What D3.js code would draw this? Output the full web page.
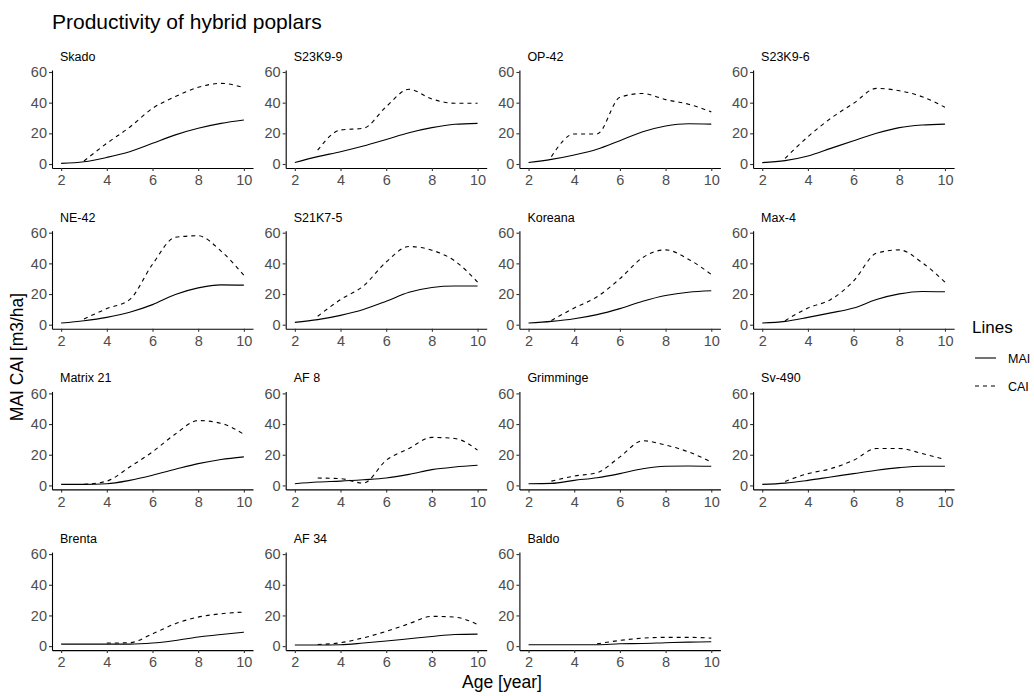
<!DOCTYPE html>
<html>
<head>
<meta charset="utf-8">
<script src="https://cdn.jsdelivr.net/npm/d3@7"></script>
<style>
  body { margin: 0; background: #fff; }
  text { font-family: "Liberation Sans", Arial, sans-serif; }
</style>
</head>
<body>
<div id="chart"></div>
<script>
// data
var ages = [2, 3, 4, 5, 6, 7, 8, 9, 10];
var clones = ["Skado", "S23K9-9", "OP-42", "S23K9-6",
              "NE-42", "S21K7-5", "Koreana", "Max-4",
              "Matrix 21", "AF 8", "Grimminge", "Sv-490",
              "Brenta", "AF 34", "Baldo"];
var maiValues = [
  [0.4, 1.5, 4.3, 8.0, 13.5, 19.0, 23.3, 26.5, 28.7],
  [1.0, 4.8, 8.0, 11.7, 16.0, 20.4, 23.7, 25.9, 26.5],
  [1.0, 3.0, 5.9, 9.6, 15.2, 21.0, 24.8, 26.3, 26.0],
  [0.9, 2.2, 5.2, 10.2, 15.2, 20.0, 23.7, 25.4, 26.0],
  [1.1, 2.6, 4.8, 8.1, 13.1, 19.7, 24.0, 26.0, 25.8],
  [1.5, 3.3, 6.1, 9.9, 15.3, 21.2, 24.3, 25.2, 25.2],
  [1.1, 2.2, 3.9, 6.6, 10.5, 15.3, 19.0, 21.2, 22.1],
  [1.1, 2.2, 4.8, 7.7, 10.9, 16.4, 20.1, 21.7, 21.5],
  [0.7, 0.7, 1.1, 3.3, 6.6, 10.5, 14.2, 16.9, 18.6],
  [1.1, 2.2, 2.8, 3.7, 4.8, 7.2, 10.3, 12.0, 13.1],
  [1.1, 1.3, 3.3, 5.0, 7.7, 10.9, 12.5, 12.7, 12.5],
  [0.7, 1.5, 3.3, 5.5, 7.7, 9.9, 11.6, 12.5, 12.5],
  [1.3, 1.3, 1.3, 1.3, 2.0, 3.7, 5.9, 7.6, 9.1],
  [0.7, 0.7, 0.9, 2.0, 3.3, 4.8, 6.3, 7.6, 7.8],
  [0.9, 0.9, 0.9, 0.9, 1.5, 1.7, 2.2, 2.6, 2.8]
];
var caiValues = [
  [null, 2.0, 13.5, 24.0, 36.3, 44.0, 50.0, 52.6, 49.8],
  [null, 9.0, 22.2, 23.3, 37.4, 48.7, 42.4, 39.6, 39.6],
  [null, 4.8, 19.6, 19.6, 43.5, 46.0, 42.0, 39.0, 34.0],
  [null, 3.7, 17.8, 29.8, 39.6, 49.3, 47.8, 43.9, 37.0],
  [null, 3.7, 10.5, 16.4, 39.4, 57.0, 58.0, 48.0, 32.2],
  [null, 5.5, 16.4, 25.2, 40.9, 51.0, 48.6, 41.6, 27.8],
  [null, 2.8, 10.9, 18.2, 30.0, 43.8, 48.8, 42.7, 32.8],
  [null, 2.6, 10.9, 16.4, 28.5, 46.6, 48.8, 40.5, 27.8],
  [null, 0.7, 2.8, 12.0, 21.9, 33.5, 42.3, 40.5, 33.3],
  [null, 4.8, 4.4, 1.5, 16.4, 24.1, 31.3, 30.6, 23.0],
  [null, 2.8, 6.1, 8.3, 18.6, 29.1, 26.3, 21.9, 15.3],
  [null, 2.6, 7.7, 10.9, 16.4, 24.1, 24.1, 20.8, 16.9],
  [null, null, 2.0, 2.2, 8.0, 14.6, 18.9, 21.1, 22.2],
  [null, 1.1, 2.2, 5.4, 9.6, 14.6, 19.4, 18.9, 14.1],
  [null, null, null, 1.5, 3.7, 5.2, 5.7, 5.7, 5.2]
];
var xTicks = [2, 4, 6, 8, 10];
var yTicks = [0, 20, 40, 60];
var lineNames = ["MAI", "CAI"];

var width = 1034, height = 696;
var ncol = 4;
var panelW = 201, panelH = 98;
var left0 = 52, top0 = 70;
var colStep = 233.7, rowStep = 160.7;

var svg = d3.select("#chart").append("svg")
  .attr("width", width)
  .attr("height", height);

var x = d3.scaleLinear().domain([1.6, 10.4]).range([0, panelW]);
var y = d3.scaleLinear().domain([-2.6, 61.3]).range([panelH, 0]);

var line = d3.line()
  .defined(d => d[1] != null)
  .x(d => x(d[0]))
  .y(d => y(d[1]))
  .curve(d3.curveMonotoneX);

clones.forEach(function (name, i) {
  var col = i % ncol, row = Math.floor(i / ncol);
  var g = svg.append("g")
    .attr("transform", `translate(${left0 + col * colStep},${top0 + row * rowStep})`);

  g.append("text")
    .attr("x", 8).attr("y", -9)
    .attr("font-size", "12.5px")
    .attr("fill", "#000")
    .text(name);

  var maiPts = ages.map((a, j) => [a, maiValues[i][j]]);
  var caiPts = ages.map((a, j) => [a, caiValues[i][j]]);

  g.append("path").attr("d", line(maiPts))
    .attr("fill", "none").attr("stroke", "#000").attr("stroke-width", 1.1);
  g.append("path").attr("d", line(caiPts))
    .attr("fill", "none").attr("stroke", "#000").attr("stroke-width", 1.1)
    .attr("stroke-dasharray", "4,4");

  // axes
  var ya = g.append("g")
    .call(d3.axisLeft(y).tickValues(yTicks).tickSize(3).tickPadding(2).tickSizeOuter(0));
  var xa = g.append("g").attr("transform", `translate(0,${panelH})`)
    .call(d3.axisBottom(x).tickValues(xTicks).tickSize(3).tickPadding(4).tickSizeOuter(0));
  [ya, xa].forEach(function (a) {
    a.select(".domain").attr("stroke", "#000").attr("stroke-width", 1.1);
    a.selectAll(".tick line").attr("stroke", "#333").attr("stroke-width", 1.1);
    a.selectAll(".tick text")
      .attr("fill", "#4d4d4d")
      .attr("font-size", "14.5px")
      .attr("font-family", "'Liberation Sans', Arial, sans-serif");
  });
});

// title
svg.append("text")
  .attr("x", 52).attr("y", 29)
  .attr("font-size", "21px")
  .text("Productivity of hybrid poplars");

// axis titles
svg.append("text")
  .attr("x", 502).attr("y", 688)
  .attr("text-anchor", "middle")
  .attr("font-size", "17.5px")
  .text("Age [year]");

svg.append("text")
  .attr("transform", "translate(23,357) rotate(-90)")
  .attr("text-anchor", "middle")
  .attr("font-size", "17.5px")
  .text("MAI CAI [m3/ha]");

// legend
var leg = svg.append("g").attr("transform", "translate(972,333)");
leg.append("text").attr("x", 0).attr("y", 0)
  .attr("font-size", "17px").text("Lines");
lineNames.forEach(function (n, i) {
  var yy = 25 + i * 28;
  leg.append("line")
    .attr("x1", 3).attr("x2", 24).attr("y1", yy).attr("y2", yy)
    .attr("stroke", "#000").attr("stroke-width", 1.1)
    .attr("stroke-dasharray", n == "CAI" ? "4,4" : null);
  leg.append("text").attr("x", 36).attr("y", yy + 5)
    .attr("font-size", "12.5px").text(n);
});
</script>
</body>
</html>
